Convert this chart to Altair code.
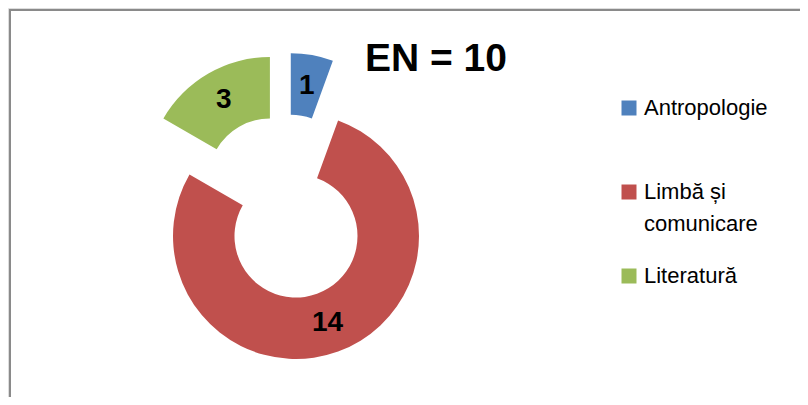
import altair as alt
import pandas as pd

# ---- data ----
categories = ["Antropologie", "Limbă și comunicare", "Literatură"]
values = [1, 14, 3]
legend_labels = ["Antropologie", "Limbă și\ncomunicare", "Literatură"]
colors = ["#4F81BD", "#C0504D", "#9BBB59"]
title_text = "EN = 10"

# ---- layout constants (pixels, plot coords) ----
CX, CY = 277.4, 198.9      # pie centre before explosion
EXPLODE = 31               # explosion distance
R_OUT, R_IN = 123, 61.5
LABEL_R = (R_OUT + R_IN) / 2
W, H = 792, 389

df = pd.DataFrame({"cat": categories, "value": values, "order": list(range(len(values)))})
leg = pd.DataFrame({"cat": categories, "label": legend_labels, "order": list(range(len(values)))})

color_scale = alt.Scale(domain=categories, range=colors)

base = (
    alt.Chart(df)
    .transform_joinaggregate(total="sum(value)")
    .transform_window(cum="sum(value)", sort=[alt.SortField("order", order="ascending")], frame=[None, 0])
    .transform_calculate(
        a0="2*PI*(datum.cum - datum.value)/datum.total",
        a1="2*PI*datum.cum/datum.total",
    )
    .transform_calculate(mid="(datum.a0 + datum.a1)/2")
    .transform_calculate(
        cx=f"{CX} + {EXPLODE}*sin(datum.mid)",
        cy=f"{CY} - {EXPLODE}*cos(datum.mid)",
    )
    .transform_calculate(
        lx=f"datum.cx + {LABEL_R}*sin(datum.mid)",
        ly=f"datum.cy - {LABEL_R}*cos(datum.mid)",
    )
)

arcs = base.mark_arc(radius=R_OUT, radius2=R_IN, stroke=None).encode(
    theta=alt.Theta("a0:Q", scale=None),
    theta2="a1:Q",
    x=alt.X("cx:Q", scale=None, axis=None),
    y=alt.Y("cy:Q", scale=None, axis=None),
    color=alt.Color("cat:N", scale=color_scale, legend=None),
)

labels = base.mark_text(
    font="Liberation Sans", fontSize=28, fontWeight="bold", color="black",
    align="center", baseline="middle",
).encode(
    x=alt.X("lx:Q", scale=None),
    y=alt.Y("ly:Q", scale=None),
    text=alt.Text("value:Q"),
)

leg_base = alt.Chart(leg).transform_calculate(
    ly="100 + 84*datum.order", ty="106.5 + 84*datum.order"
)
leg_sq = leg_base.mark_square(size=225, opacity=1).encode(
    x=alt.value(621),
    y=alt.Y("ly:Q", scale=None),
    color=alt.Color("cat:N", scale=color_scale, legend=None),
)
leg_txt = leg_base.mark_text(
    font="Liberation Sans", fontSize=22, color="black", align="left",
    baseline="alphabetic", lineBreak="\n", lineHeight=32,
).encode(
    x=alt.value(636),
    y=alt.Y("ty:Q", scale=None),
    text="label:N",
)

title = alt.Chart(alt.Data(values=[{"t": title_text}])).mark_text(
    font="Liberation Sans", fontSize=39, fontWeight="bold", color="black",
    align="center", baseline="alphabetic",
).encode(x=alt.value(428), y=alt.value(62.5), text="t:N")

one = alt.Data(values=[{}])
top_rule = alt.Chart(one).mark_rule(color="#8a8a8a", strokeWidth=2).encode(
    x=alt.value(1), x2=alt.value(W), y=alt.value(2)
)
left_rule = alt.Chart(one).mark_rule(color="#8a8a8a", strokeWidth=2).encode(
    x=alt.value(2), y=alt.value(1), y2=alt.value(H)
)

chart = (
    alt.layer(arcs, labels, leg_sq, leg_txt, title, top_rule, left_rule)
    .properties(width=W, height=H, autosize=alt.AutoSizeParams(type="none"), padding=0)
    .configure_view(stroke=None)
    .configure(background="white")
)

chart.save("out.html", embed_options={"renderer": "svg", "actions": False})
